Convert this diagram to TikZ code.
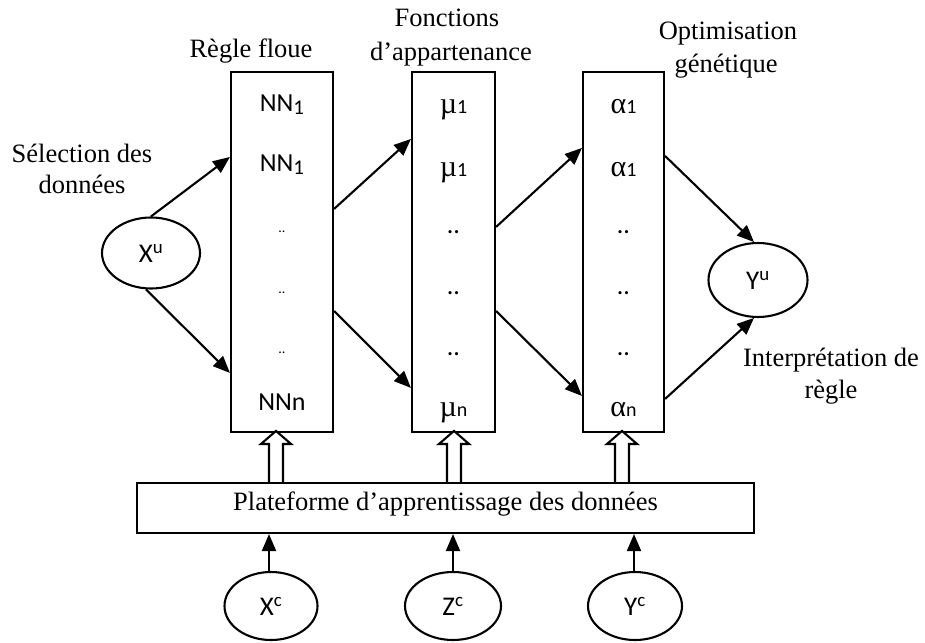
\documentclass[tikz,border=0pt]{standalone}
\usepackage{fontspec}
\setmainfont{Liberation Serif}
\newfontfamily\calfont{Carlito}
\newfontfamily\grkfont{Liberation Serif}
\usetikzlibrary{arrows.meta,shapes.geometric,calc}
\newcommand{\lowsub}[1]{\raisebox{-3.5pt}{\fontsize{21}{24}\selectfont #1}}
\newcommand{\grk}[2]{{\grkfont\fontsize{30}{32}\selectfont #1}{\fontsize{20}{22}\selectfont #2}}
\newcommand{\hollowup}[1]{\draw[fill=white] (#1) ++(-7,0) -- ++(0,-38) -- ++(-8,0) -- ++(15,-13) -- ++(15,13) -- ++(-8,0) -- ++(0,38);}
\begin{document}
\begin{tikzpicture}[x=1pt,y=-1pt,line width=2.1pt,
  lab/.style={font=\fontsize{26.5}{31}\selectfont, inner sep=0, anchor=base},
  item/.style={font=\calfont\fontsize{26}{30}\selectfont, inner sep=0, anchor=base},
  colbox/.style={draw, rectangle, inner sep=0},
  ell/.style={draw, ellipse, inner sep=0, minimum width=96pt, minimum height=71pt, font=\calfont\fontsize{27}{30}\selectfont},
  arr/.style={-{Triangle[length=17pt,width=14pt]}}]
\useasboundingbox (0,0) rectangle (925,642);

% columns
\node[colbox, minimum width=102pt, minimum height=360pt] (b1) at (282,252) {};
\node[colbox, minimum width=83pt, minimum height=360pt] (b2) at (453.5,252) {};
\node[colbox, minimum width=81pt, minimum height=360pt] (b3) at (623.5,252) {};

% platform
\node[colbox, minimum width=617pt, minimum height=50pt] (plat) at (445.5,508) {};
\node[lab] (platt) at (445.5,510) {Plateforme d’apprentissage des données};

% ellipses
\node[ell, minimum width=98pt, minimum height=71pt] (Xu) at (151,253) {X\textsuperscript{u}};
\node[ell, minimum width=99pt, minimum height=74pt] (Yu) at (758,280) {Y\textsuperscript{u}};
\node[ell, minimum width=93pt, minimum height=68pt] (Xc) at (271,606) {X\textsuperscript{c}};
\node[ell, minimum width=96pt, minimum height=68pt] (Zc) at (453,606) {Z\textsuperscript{c}};
\node[ell, minimum width=94pt, minimum height=68pt] (Yc) at (635,606) {Y\textsuperscript{c}};

% titles
\node[lab] (t1) at (251,58) {Règle floue};
\node[lab] (t2a) at (447,27) {Fonctions};
\node[lab] (t2b) at (451,60) {d’appartenance};
\node[lab] (t3a) at (728,40) {Optimisation};
\node[lab] (t3b) at (726,72) {génétique};
\node[lab] (t4a) at (82,162) {Sélection des};
\node[lab] (t4b) at (82,193) {données};
\node[lab] (t5a) at (831,366) {Interprétation de};
\node[lab] (t5b) at (831,398) {règle};

% column 1 items
\node[item] (n11) at (282,111) {NN\lowsub{1}};
\node[item] (n12) at (282,171) {NN\lowsub{1}};
\node[item, font=\calfont\fontsize{14}{16}\selectfont] (n13) at (282,232) {..};
\node[item, font=\calfont\fontsize{14}{16}\selectfont] (n14) at (282,293) {..};
\node[item, font=\calfont\fontsize{14}{16}\selectfont] (n15) at (282,353) {..};
\node[item] (n16) at (282,410) {NNn};

% column 2 items
\node[item] (n21) at (453.5,113) {\grk{µ}{1}};
\node[item] (n22) at (453.5,176) {\grk{µ}{1}};
\node[item] (n23) at (453.5,233) {..};
\node[item] (n24) at (453.5,294) {..};
\node[item] (n25) at (453.5,355) {..};
\node[item] (n26) at (453.5,416) {\grk{µ}{n}};

% column 3 items
\node[item] (n31) at (623.5,113) {\grk{α}{1}};
\node[item] (n32) at (623.5,176) {\grk{α}{1}};
\node[item] (n33) at (623.5,233) {..};
\node[item] (n34) at (623.5,294) {..};
\node[item] (n35) at (623.5,355) {..};
\node[item] (n36) at (623.5,416) {\grk{α}{n}};

% connection points on column borders
\coordinate (b1in1) at ($(b1.north west)+(0,86)$);
\coordinate (b1in2) at ($(b1.north west)+(0,302)$);
\coordinate (b1out1) at ($(b1.north east)+(0,138)$);
\coordinate (b1out2) at ($(b1.north east)+(0,240)$);
\coordinate (b2in1) at ($(b2.north west)+(0,68)$);
\coordinate (b2in2) at ($(b2.north west)+(0,317)$);
\coordinate (b2out1) at ($(b2.north east)+(0,156)$);
\coordinate (b2out2) at ($(b2.north east)+(0,240)$);
\coordinate (b3in1) at ($(b3.north west)+(0,77)$);
\coordinate (b3in2) at ($(b3.north west)+(0,325)$);
\coordinate (b3out1) at ($(b3.north east)+(0,85)$);
\coordinate (b3out2) at ($(b3.north east)+(0,328)$);

% arrows
\draw[arr] (Xu.north) -- (b1in1);
\draw[arr] (Xu.262) -- (b1in2);
\draw[arr] (b1out1) -- (b2in1);
\draw[arr] (b1out2) -- (b2in2);
\draw[arr] (b2out1) -- (b3in1);
\draw[arr] (b2out2) -- (b3in2);
\draw[arr] (b3out1) -- (Yu.96);
\draw[arr] (b3out2) -- (Yu.264);

\draw[arr] (Xc.north) ++(-2,0) coordinate (xcs) -- (xcs |- plat.south);
\draw[arr] (Zc.north) -- (Zc.north |- plat.south);
\draw[arr] (Yc.north) ++(-1,0) coordinate (ycs) -- (ycs |- plat.south);

% hollow arrows
\coordinate (h1) at ($(b1.south)+(-6,0)$);
\coordinate (h2) at ($(b2.south)+(0.5,0)$);
\coordinate (h3) at ($(b3.south)+(-1.5,0)$);
\hollowup{h1 |- plat.north}
\hollowup{h2 |- plat.north}
\hollowup{h3 |- plat.north}
\end{tikzpicture}
\end{document}
